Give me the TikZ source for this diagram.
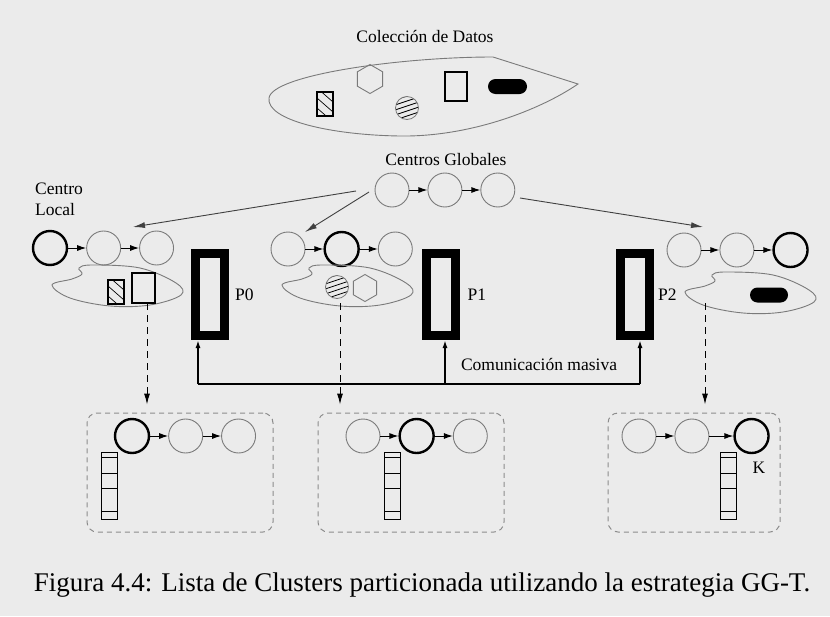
\documentclass[tikz,border=0pt]{standalone}
\usepackage{fontspec}
\setmainfont{Liberation Serif}
\usetikzlibrary{calc, positioning, arrows.meta, shapes.geometric}

\definecolor{bgcol}{HTML}{EBEBEB}
\definecolor{linegray}{HTML}{7A7A7A}
\definecolor{boxgray}{HTML}{8C8C8C}

% local data set outline, shifted copy of the left one
\newcommand{\blob}[2]{\draw[blobline, shift={(#1,#2)}] plot[smooth cycle, tension=0.6] coordinates {(52,285) (72,279) (82,274) (79,268) (92,265) (140,268) (176,283) (181,295) (150,305) (110,306) (70,298)};}
% hatched box, top left corner given
\newcommand{\hatchbox}[2]{%
  \begin{scope}
    \clip (#1,#2) rectangle ++(16,24);
    \foreach \hy in {-4,6,16} \draw[line width=0.7pt] (#1,#2+\hy) -- ++(16,14);
  \end{scope}
  \draw[line width=1.1pt] (#1,#2) rectangle ++(16,24);}
% striped ball, centre given
\newcommand{\stripeball}[2]{%
  \begin{scope}
    \clip (#1,#2) circle (11.5);
    \foreach \sy in {-12,-7,...,13} \draw[line width=0.8pt] (#1-12,#2+\sy+4) -- (#1+12,#2+\sy-4);
  \end{scope}
  \draw[line width=0.8pt, draw=linegray] (#1,#2) circle (11.5);}
% cluster element stack, top left corner given
\newcommand{\stack}[2]{%
  \draw[line width=1pt] (#1,#2) rectangle ++(16,67);
  \foreach \ly in {5,21,36,59} \draw[line width=1pt] (#1,#2+\ly) -- ++(16,0);}

\begin{document}
\begin{tikzpicture}[
    x=1pt, y=-1pt,
    node distance=18pt,
    font=\fontsize{17.5}{21}\selectfont,
    cnode/.style={circle, draw=linegray, line width=0.9pt, minimum size=34pt, inner sep=0pt},
    cbold/.style={cnode, draw=black, line width=2.4pt},
    link/.style={-{Latex[length=9pt,width=6pt]}, line width=1pt},
    garrow/.style={-{Latex[length=12pt,width=6pt]}, draw=black!75, line width=0.9pt},
    darrow/.style={-{Latex[length=11pt,width=6pt]}, dash pattern=on 7pt off 5pt, line width=1pt},
    proc/.style={draw, rectangle, line width=9pt, minimum width=29pt, minimum height=82pt, inner sep=0pt},
    plabel/.style={inner sep=2pt},
    clusterbox/.style={draw=boxgray, dash pattern=on 5pt off 4pt, rounded corners=10pt, line width=1pt, minimum width=186pt, minimum height=119pt},
    hexa/.style={regular polygon, regular polygon sides=6, shape border rotate=30, draw=linegray, line width=0.9pt, minimum size=29pt, inner sep=0pt},
    docbox/.style={draw, line width=1.1pt, minimum width=22pt, minimum height=29pt, inner sep=0pt},
    pill/.style={fill, rounded corners=7.5pt, minimum width=39pt, minimum height=15pt, inner sep=0pt},
    bus/.style={line width=2pt},
    busarrow/.style={-{Latex[length=8pt,width=5pt]}, line width=2pt},
    blobline/.style={draw=linegray, line width=0.9pt}
  ]
  \fill[bgcol] (0,0) rectangle (830,616);
  \useasboundingbox (0,0) rectangle (830,616);

  % data collection
  \node (title) at (425,37) {Colección de Datos};
  \draw[blobline] (269,98) .. controls (272,75) and (400,57) .. (493,57) -- (578,84)
    .. controls (540,110) and (470,137) .. (400,136) .. controls (330,135) and (266,120) .. (269,98) -- cycle;
  \hatchbox{317}{92}
  \node[hexa] (hex) at (370,79) {};
  \stripeball{407}{108}
  \node[docbox] (doc) at (456,86.5) {};
  \node[pill] (pill) at (507.5,86.5) {};

  % global centres
  \node (glob) at (446,160) {Centros Globales};
  \node[cnode] (g1) at (392,190) {};
  \node[cnode, right=of g1] (g2) {};
  \node[cnode, right=of g2] (g3) {};
  \draw[link] (g1) -- (g2);
  \draw[link] (g2) -- (g3);

  % local centres
  \node[align=left, anchor=north west, inner sep=0pt] (loc) at (35,183) {Centro\\Local};
  \node[cbold] (l1) at (50,248) {};
  \node[cnode, right=of l1] (l2) {};
  \node[cnode, right=of l2] (l3) {};
  \node[cnode] (m1) at (288,249) {};
  \node[cbold, right=of m1] (m2) {};
  \node[cnode, right=of m2] (m3) {};
  \node[cnode] (r1) at (684,250) {};
  \node[cnode, right=of r1] (r2) {};
  \node[cbold, right=of r2] (r3) {};
  \foreach \a/\b in {l1/l2, l2/l3, m1/m2, m2/m3, r1/r2, r2/r3}
    \draw[link] (\a) -- (\b);

  \coordinate (ga) at (356,191);
  \coordinate (gb) at (369,192);
  \coordinate (gc) at (520,198);
  \coordinate (ta) at (133,227);
  \coordinate (tb) at (305,232);
  \coordinate (tc) at (703,227);
  \draw[garrow] (ga) -- (ta);
  \draw[garrow] (gb) -- (tb);
  \draw[garrow] (gc) -- (tc);

  % local data sets
  \blob{0}{0}
  \blob{230}{0}
  \blob{633}{7}
  \hatchbox{108}{280}
  \node[docbox, minimum height=30pt, minimum width=23pt] (ldoc) at (143.5,288) {};
  \stripeball{337}{287}
  \node[hexa, minimum size=27pt] (mhex) at (365,288) {};
  \node[pill, minimum width=38pt] (rpill) at (769,295) {};

  % processors
  \node[proc] (p0) at (210,294.5) {};
  \node[proc] (p1) at (440.5,294.5) {};
  \node[proc] (p2) at (635,294.5) {};
  \node[plabel, right=4pt of p0] (p0l) {P0};
  \node[plabel, right=6pt of p1] (p1l) {P1};
  \node[plabel, right=2pt of p2] (p2l) {P2};

  \coordinate (b0) at (198,384);
  \coordinate (b1) at (445,384);
  \coordinate (b2) at (640,384);
  \draw[bus] (b0) -- (b2);
  \draw[busarrow] (b0) -- (b0 |- p0.south);
  \draw[busarrow] (b1) -- (b1 |- p1.south);
  \draw[busarrow] (b2) -- (b2 |- p2.south);
  \node (comm) at (539,364) {Comunicación masiva};

  % clusters per processor
  \node[clusterbox] (c0) at (180,472.5) {};
  \node[clusterbox] (c1) at (411,472.5) {};
  \node[clusterbox, minimum width=172pt] (c2) at (694,472.5) {};

  \coordinate (s0) at (147,303);
  \coordinate (s1) at (340,303);
  \coordinate (s2) at (705,303);
  \draw[darrow] (s0) -- ($(s0 |- c0.north)+(0,-8)$);
  \draw[darrow] (s1) -- ($(s1 |- c1.north)+(0,-8)$);
  \draw[darrow] (s2) -- ($(s2 |- c2.north)+(0,-8)$);

  \node[cbold] (a1) at (132,436) {};
  \node[cnode, right=of a1] (a2) {};
  \node[cnode, right=of a2] (a3) {};
  \node[cnode] (e1) at (363,436) {};
  \node[cbold, right=of e1] (e2) {};
  \node[cnode, right=of e2] (e3) {};
  \node[cnode] (k1) at (639,436) {};
  \node[cnode, right=of k1] (k2) {};
  \node[cbold, right=24pt of k2] (k3) {};
  \foreach \a/\b in {a1/a2, a2/a3, e1/e2, e2/e3, k1/k2, k2/k3}
    \draw[link] (\a) -- (\b);

  \stack{101}{452}
  \stack{384}{452}
  \stack{720}{452}
  \node (klabel) at (759,468) {K};

  \node (caption) at (422,585) {\fontsize{27}{32}\selectfont Figura 4.4: Lista de Clusters particionada utilizando la estrategia GG-T.};
\end{tikzpicture}
\end{document}
